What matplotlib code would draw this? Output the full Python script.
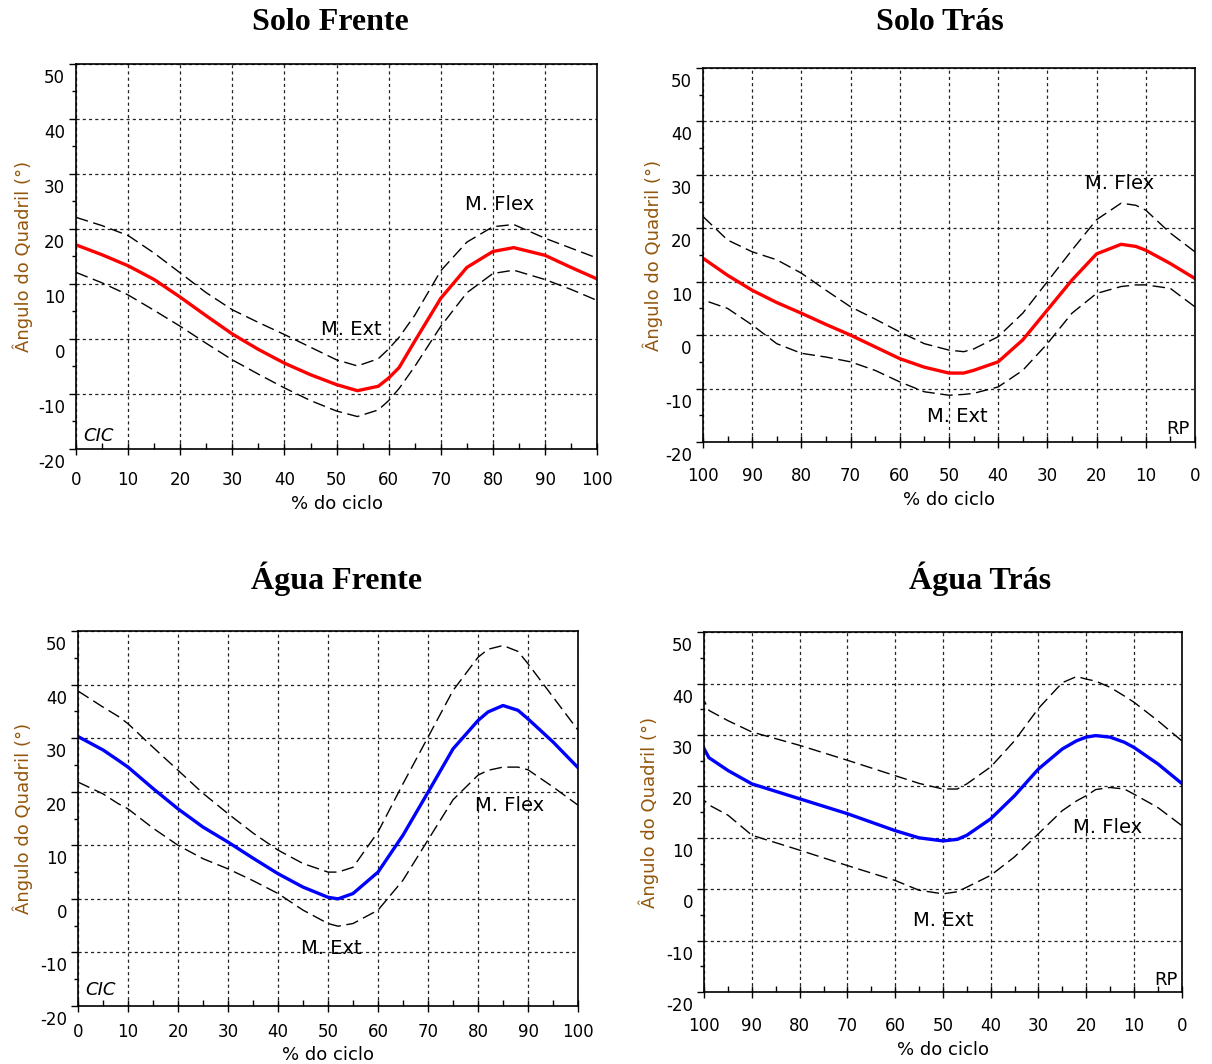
import matplotlib
matplotlib.use("Agg")
import matplotlib.pyplot as plt
import matplotlib.transforms as mtrans
import numpy as np

# ------------------------- datos -------------------------
# Solo Frente (0 -> 100 % do ciclo)
x_sf = [0, 5, 10, 15, 20, 25, 30, 35, 40, 45, 50, 54, 58, 60, 62, 65, 70, 75, 80, 84, 90, 95, 100]
media_sf = [17.1, 15.3, 13.3, 10.8, 7.6, 4.2, 0.9, -1.9, -4.4, -6.5, -8.3, -9.4, -8.6, -7.1, -5.2, -0.4,
            7.4, 13.0, 15.9, 16.6, 15.2, 13.0, 10.9]
sup_sf = [22.1, 20.6, 18.8, 15.6, 12.0, 8.4, 5.3, 3.0, 0.8, -1.5, -3.8, -4.9, -3.6, -1.8, 0.3, 4.3,
          12.4, 17.6, 20.4, 20.8, 18.3, 16.5, 14.7]
inf_sf = [12.1, 10.2, 8.0, 5.2, 2.3, -0.8, -3.8, -6.4, -8.9, -11.2, -13.1, -14.1, -12.9, -11.2, -9.0, -5.0,
          2.3, 8.4, 11.9, 12.5, 10.8, 9.0, 7.0]

# Solo Tras (eje invertido 100 -> 0)
x_st = [0, 5, 10, 12, 15, 20, 25, 30, 35, 40, 45, 47, 50, 55, 60, 65, 70, 75, 80, 85, 90, 95, 100]
media_st = [10.6, 13.4, 15.9, 16.6, 17.0, 15.2, 10.3, 4.7, -0.9, -5.0, -6.6, -7.1, -7.1, -6.0, -4.4, -2.2,
            0.0, 2.0, 4.1, 6.1, 8.4, 11.2, 14.4]
sup_st = [15.6, 19.1, 23.4, 24.3, 24.7, 21.6, 15.9, 10.0, 4.1, -0.3, -2.6, -3.1, -2.8, -1.6, 0.6, 3.0,
          5.3, 8.4, 11.6, 14.1, 15.6, 17.8, 22.2]
inf_st = [5.3, 8.75, 9.4, 9.4, 9.1, 7.8, 4.1, -1.6, -6.6, -9.7, -10.9, -11.1, -11.25, -10.6, -8.75, -6.6,
          -5.0, -4.1, -3.4, -1.6, 1.9, 5.0, 6.6]

# Agua Frente
x_af = [0, 5, 8, 10, 15, 20, 25, 30, 35, 40, 45, 50, 52, 55, 60, 65, 70, 75, 80, 82, 85, 88, 90, 95, 100]
media_af = [30.3, 27.8, 25.9, 24.6, 20.6, 16.8, 13.4, 10.6, 7.6, 4.7, 2.2, 0.3, 0.0, 1.0, 5.0, 11.9,
            19.9, 28.0, 33.3, 34.9, 36.1, 35.2, 33.6, 29.3, 24.5]
sup_af = [38.8, 35.8, 34.1, 32.7, 28.3, 24.0, 19.7, 15.9, 12.3, 9.1, 6.6, 5.0, 5.0, 5.9, 12.5, 21.5,
          30.2, 38.9, 45.1, 46.6, 47.3, 46.2, 43.9, 37.7, 31.5]
inf_af = [21.8, 19.6, 17.8, 16.8, 13.2, 10.0, 7.5, 5.6, 3.4, 1.0, -2.1, -4.6, -5.1, -4.6, -2.1, 3.5,
          11.0, 18.5, 23.1, 24.0, 24.6, 24.6, 24.1, 20.9, 17.5]

# Agua Tras (eje invertido)
x_at = [0, 5, 10, 12, 15, 18, 20, 22, 25, 30, 35, 40, 45, 47, 50, 55, 60, 70, 80, 90, 95, 99, 100]
media_at = [20.6, 24.4, 27.6, 28.6, 29.6, 29.9, 29.6, 28.9, 27.3, 23.4, 18.2, 13.7, 10.5, 9.7, 9.4, 10.0,
            11.4, 14.7, 17.6, 20.5, 23.1, 25.6, 27.3]
sup_at = [28.9, 32.8, 36.4, 37.6, 39.3, 40.5, 40.9, 41.4, 40.2, 35.2, 28.9, 23.8, 20.5, 19.5, 19.5, 20.6,
          22.1, 25.1, 28.0, 30.6, 32.8, 34.8, 36.7]
inf_at = [12.4, 15.9, 18.5, 19.5, 19.8, 19.4, 18.2, 17.2, 15.3, 10.8, 6.3, 2.7, 0.4, -0.5, -0.9, -0.2,
          1.7, 4.6, 7.6, 10.5, 14.4, 16.4, 17.3]

xticks = [0, 10, 20, 30, 40, 50, 60, 70, 80, 90, 100]
yticks = [-20, -10, 0, 10, 20, 30, 40, 50]

plt.rcParams['font.family'] = ['DejaVu Sans']
plt.rcParams['axes.unicode_minus'] = False  # el original usa guion simple
fig = plt.figure(figsize=(12.12, 10.64), dpi=100)


def panel(pos, x, media, sup, inf, color, invertir, titulo, tit_xy, notas, marca, xpad, ylab_x):
    ax = fig.add_axes(pos)
    ax.plot(x, sup, color='black', lw=1.0, dashes=(9, 4))
    ax.plot(x, inf, color='black', lw=1.0, dashes=(9, 4))
    ax.plot(x, media, color=color, lw=2.4)
    ax.set_xlim(0, 100)
    ax.set_ylim(-20, 50)
    if invertir:
        ax.invert_xaxis()
    ax.set_xticks(xticks)
    ax.set_yticks(yticks)
    ax.set_xticks(np.arange(5, 100, 10), minor=True)
    ax.set_yticks(np.arange(-15, 50, 10), minor=True)
    ax.grid(True, which='major', color='#222222', lw=0.9, linestyle=(0, (2.5, 2.5)))
    ax.tick_params(axis='x', which='major', direction='inout', length=8, width=1, pad=xpad, labelsize=12)
    ax.tick_params(axis='x', which='minor', direction='in', length=4, width=1)
    ax.tick_params(axis='y', which='major', direction='out', length=5, width=1, pad=3, labelsize=12)
    ax.tick_params(axis='y', which='minor', direction='out', length=3, width=1)
    for s in ax.spines.values():
        s.set_linewidth(1.2)
    # las etiquetas del eje y aparecen corridas hacia abajo en la figura original
    desplazar = mtrans.ScaledTranslation(0, -0.12, fig.dpi_scale_trans)
    for lab in ax.get_yticklabels():
        lab.set_transform(lab.get_transform() + desplazar)
    ax.set_xlabel('% do ciclo', fontsize=13, labelpad=4)
    ax.set_ylabel('Ângulo do Quadril (°)', fontsize=13, color='#93560c')
    ax.yaxis.set_label_coords(ylab_x, 0.5)
    for texto, tx, ty in notas:
        ax.text(tx, ty, texto, fontsize=14, ha='center', va='center')
    ax.text(marca[1], marca[2], marca[0], fontsize=13, ha='center', va='center',
            style='italic' if marca[0] == 'CIC' else 'normal')
    fig.text(tit_xy[0], tit_xy[1], titulo, fontsize=23, fontweight='bold',
             family='Liberation Serif', ha='center', va='center')
    return ax


panel([0.0627, 0.578, 0.430, 0.362], x_sf, media_sf, sup_sf, inf_sf, 'red', False,
      'Solo Frente', (330 / 1212, 1 - 23 / 1064),
      [('M. Flex', 81.2, 24.4), ('M. Ext', 52.8, 1.7)], ('CIC', 4.4, -17.7), 12, -0.082)

panel([0.580, 0.5846, 0.4059, 0.3515], x_st, media_st, sup_st, inf_st, 'red', True,
      'Solo Trás', (940 / 1212, 1 - 23 / 1064),
      [('M. Flex', 15.3, 28.4), ('M. Ext', 48.3, -15.3)], ('RP', 3.4, -17.5), 14, -0.081)

panel([0.0644, 0.0545, 0.4125, 0.3524], x_af, media_af, sup_af, inf_af, 'blue', False,
      'Água Frente', (337 / 1212, 1 - 579 / 1064),
      [('M. Flex', 86.3, 17.5), ('M. Ext', 50.6, -9.3)], ('CIC', 4.5, -17.1), 8, -0.09)

panel([0.581, 0.0677, 0.394, 0.338], x_at, media_at, sup_at, inf_at, 'blue', True,
      'Água Trás', (980 / 1212, 1 - 579 / 1064),
      [('M. Flex', 15.5, 12.1), ('M. Ext', 50.0, -6.0)], ('RP', 3.2, -17.6), 14, -0.094)

plt.savefig('out.png', dpi=100)
